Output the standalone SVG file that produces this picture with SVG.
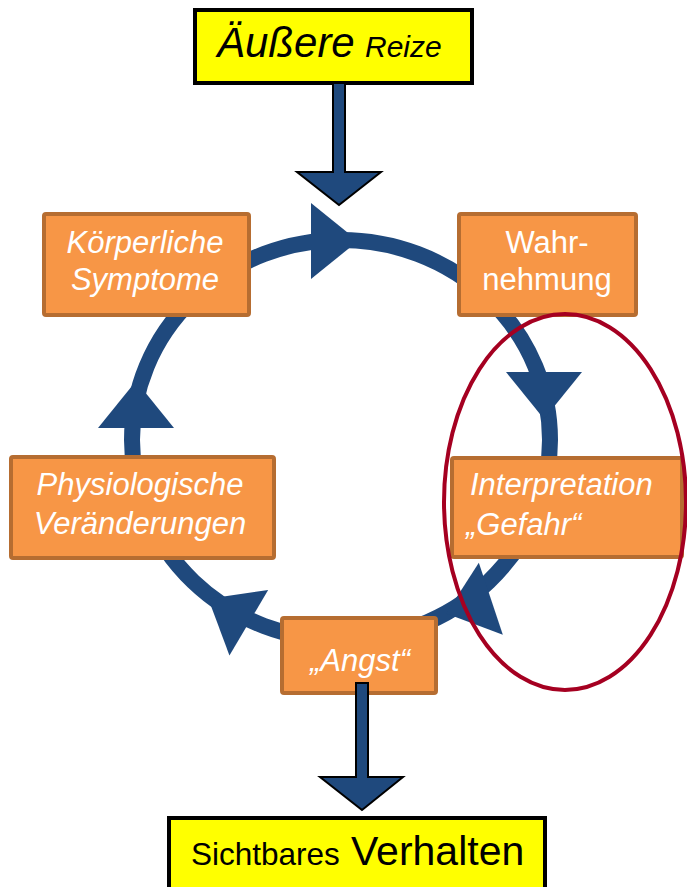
<svg xmlns="http://www.w3.org/2000/svg" width="687" height="887" viewBox="0 0 687 887">
<style>
.box{fill:#F79646;stroke:#B66D31;stroke-width:4}
.ybox{fill:#FFFF00;stroke:#000;stroke-width:4}
.t{font-family:"Liberation Sans",Arial,sans-serif;font-size:31px;fill:#fff}
.i{font-style:italic}
.k{font-family:"Liberation Sans",Arial,sans-serif;fill:#000}
.ring{fill:none;stroke:#1F497D;stroke-width:16}
.bigarrow{fill:#1F497D;stroke:#000;stroke-width:2;stroke-linejoin:miter}
</style>
<defs>
<polygon id="head" points="-23,-38 -23,38 24,0" fill="#1F497D"/>
</defs>
<g id="connectors">
<ellipse class="ring" cx="341" cy="440" rx="209" ry="200"/>
<use href="#head" transform="translate(334,241)"/>
<use href="#head" transform="translate(544,395) rotate(90)"/>
<use href="#head" transform="translate(469,606) rotate(161.6)"/>
<use href="#head" transform="translate(229,611) rotate(210.6)"/>
<use href="#head" transform="translate(136,405) rotate(-90)"/>
</g>
<g id="aeussere">
<rect class="ybox" x="195" y="10" width="277" height="73"/>
<text class="k i" x="217" y="57" font-size="42">Äußere</text>
<text class="k i" x="365" y="57" font-size="30">Reize</text>
</g>
<g id="koerperliche">
<rect class="box" x="44" y="214" width="205" height="101" rx="2"/>
<text class="t i" text-anchor="middle"><tspan x="145" y="253">Körperliche</tspan><tspan x="145" y="290">Symptome</tspan></text>
</g>
<g id="wahrnehmung">
<rect class="box" x="459" y="214" width="177" height="101" rx="2"/>
<text class="t" text-anchor="middle"><tspan x="547" y="253">Wahr-</tspan><tspan x="547" y="290">nehmung</tspan></text>
</g>
<g id="physiologische">
<rect class="box" x="11" y="457" width="263" height="101" rx="2"/>
<text class="t i" text-anchor="middle"><tspan x="140" y="495">Physiologische</tspan><tspan x="140" y="534">Veränderungen</tspan></text>
</g>
<g id="interpretation">
<rect class="box" x="452" y="458" width="230" height="99" rx="2"/>
<text class="t i"><tspan x="470" y="495">Interpretation</tspan><tspan x="466" y="535">„Gefahr“</tspan></text>
</g>
<g id="angst">
<rect class="box" x="282" y="618" width="154" height="75" rx="2"/>
<text class="t i" x="360" y="671" text-anchor="middle">„Angst“</text>
</g>
<g id="arrows">
<path class="bigarrow" d="M333,83 L345,83 L345,172 L381,172 L339,205 L297,172 L333,172 Z"/>
<path class="bigarrow" d="M356,683 L368,683 L368,777 L403,777 L362,810 L320,777 L356,777 Z"/>
</g>
<g id="verhalten">
<rect class="ybox" x="169" y="818" width="376" height="90"/>
<text class="k" x="191" y="865" font-size="31.5">Sichtbares</text>
<text class="k" x="351" y="865" font-size="41">Verhalten</text>
</g>
<g id="highlight">
<ellipse cx="565" cy="502" rx="121" ry="188" fill="none" stroke="#A50021" stroke-width="4"/>
</g>
</svg>
